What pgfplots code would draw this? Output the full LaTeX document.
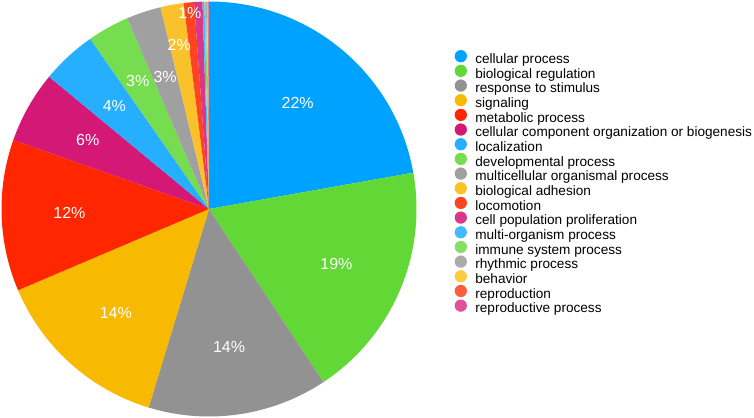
\documentclass[border=0pt]{standalone}
\usepackage{pgfplots}
\usepackage{pgfplotstable}
\pgfplotsset{compat=1.18}
\usepackage{fontspec}
\setmainfont{Liberation Sans}
\definecolor{c1}{HTML}{00A2FF}
\definecolor{c2}{HTML}{61D836}
\definecolor{c3}{HTML}{929292}
\definecolor{c4}{HTML}{F8BA00}
\definecolor{c5}{HTML}{FF2600}
\definecolor{c6}{HTML}{D31876}
\definecolor{c7}{HTML}{26AEFF}
\definecolor{c8}{HTML}{76DD50}
\definecolor{c9}{HTML}{A0A0A0}
\definecolor{c10}{HTML}{F9C22A}
\definecolor{c11}{HTML}{FF4420}
\definecolor{c12}{HTML}{D9388A}
\definecolor{c13}{HTML}{43B9FF}
\definecolor{c14}{HTML}{86E062}
\definecolor{c15}{HTML}{ABABAB}
\definecolor{c16}{HTML}{FBCC40}
\definecolor{c17}{HTML}{FF5C3E}
\definecolor{c18}{HTML}{DF5299}
\newcommand\labfont{\fontsize{12}{14}\selectfont}
\newcommand\legfont{\fontsize{10.2}{12}\selectfont}
\pgfplotstableread[col sep=comma]{
name,value,col,lab,lr
cellular process,22.2,c1,22,0.665
biological regulation,18.5,c2,19,0.668
response to stimulus,14.0,c3,14,0.67
signaling,13.9,c4,14,0.672
metabolic process,11.8,c5,12,0.673
cellular component organization or biogenesis,5.6,c6,6,0.672
localization,4.3,c7,4,0.673
developmental process,3.25,c8,3,0.707
multicellular organismal process,2.7,c9,3,0.672
biological adhesion,1.8,c10,2,0.805
locomotion,0.8,c11,1,0.95
cell population proliferation,0.65,c12,0,0
multi-organism process,0.15,c13,0,0
immune system process,0.12,c14,0,0
rhythmic process,0.08,c15,0,0
behavior,0.06,c16,0,0
reproduction,0.05,c17,0,0
reproductive process,0.04,c18,0,0
}\data
\begin{document}
\begin{tikzpicture}
\useasboundingbox (0,0) rectangle (565.5pt,313.5pt);
\def\R{155.625pt}
\begin{axis}[
  at={(156.75pt,156.75pt)}, anchor=center,
  x=155.625pt, y=155.625pt,
  xmin=-1, xmax=1, ymin=-1, ymax=1,
  hide axis, clip=false,
  legend image code/.code={\fill[#1, draw=none] (0pt,0.35em) circle (4.6pt);},
  legend cell align=left,
  legend style={draw=none, fill=none, inner sep=0pt, outer sep=0pt,
    at={(1.092,0.883)}, anchor=north west, font=\legfont,
    row sep=-2.57pt, column sep=6.3pt,
    nodes={inner sep=0pt, text height=7.45pt, text depth=3.5pt}},
]
\pgfplotstablegetrowsof{\data}
\pgfmathtruncatemacro\nlast{\pgfplotsretval-1}
\def\cum{90}
\pgfplotsforeachungrouped \i in {0,...,\nlast}{
  \pgfplotstablegetelem{\i}{value}\of\data \let\v\pgfplotsretval
  \pgfplotstablegetelem{\i}{col}\of\data \let\c\pgfplotsretval
  \pgfplotstablegetelem{\i}{name}\of\data \let\nm\pgfplotsretval
  \pgfmathsetmacro\endang{\cum-\v*3.6}
  \edef\temp{\noexpand\fill[\c] (axis cs:0,0) -- (axis cs:{cos(\cum)},{sin(\cum)}) arc[start angle=\cum, end angle=\endang, radius=\R] -- cycle;}
  \temp
  \edef\temp{\noexpand\addlegendimage{fill=\c, draw=none}}
  \temp
  \addlegendentryexpanded{\nm}
  \let\cum\endang
}
\def\cum{90}
\pgfplotsforeachungrouped \i in {0,...,\nlast}{
  \pgfplotstablegetelem{\i}{value}\of\data \let\v\pgfplotsretval
  \pgfplotstablegetelem{\i}{lab}\of\data \let\lab\pgfplotsretval
  \pgfplotstablegetelem{\i}{lr}\of\data \let\lr\pgfplotsretval
  \pgfmathsetmacro\endang{\cum-\v*3.6}
  \pgfmathsetmacro\midang{(\cum+\endang)/2}
  \ifnum\lab>0
    \edef\temp{\noexpand\node[text=white, font=\noexpand\labfont, inner sep=0pt] at (axis cs:{\lr*cos(\midang)},{\lr*sin(\midang)}) {\lab\noexpand\%};}
    \temp
  \fi
  \let\cum\endang
}
\end{axis}
\end{tikzpicture}
\end{document}
